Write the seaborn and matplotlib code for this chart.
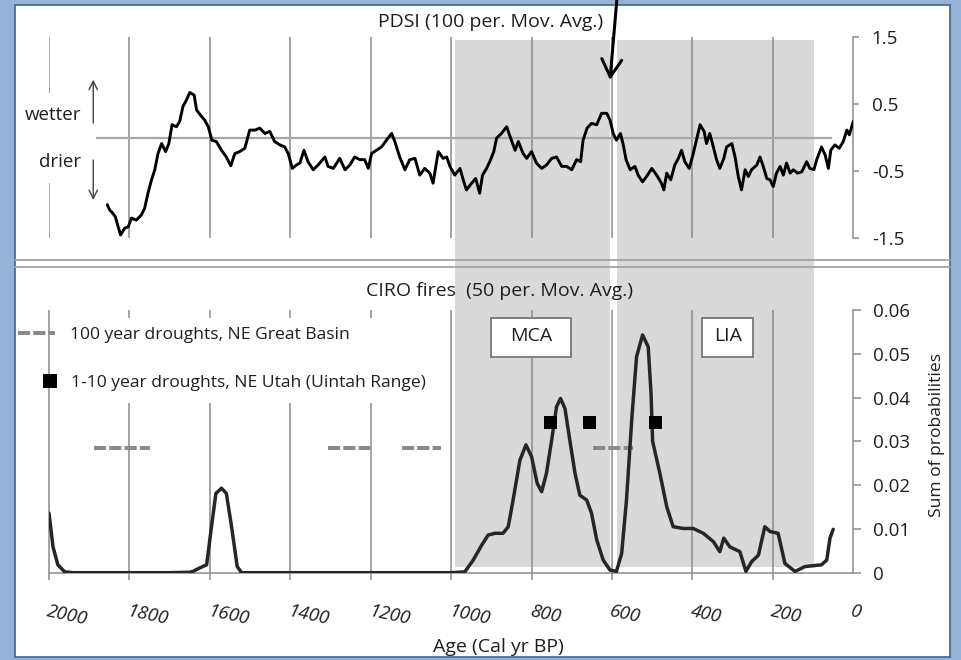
import matplotlib
matplotlib.use("Agg")
import matplotlib.pyplot as plt
import matplotlib.transforms as mtransforms
from matplotlib.patches import Rectangle
from matplotlib.lines import Line2D
import pandas as pd
import seaborn as sns

# ---------------- data ----------------
pdsi_years = [1855, 1849, 1841, 1835, 1828, 1822, 1812, 1803, 1795, 1783, 1770, 1762, 1754, 1745,
              1737, 1729, 1720, 1710, 1702, 1694, 1683, 1675, 1667, 1658, 1650, 1639, 1633, 1623,
              1613, 1604, 1595, 1584, 1571, 1559, 1548, 1538, 1526, 1513, 1501, 1488, 1476, 1463,
              1451, 1439, 1426, 1414, 1405, 1395, 1385, 1376, 1366, 1356, 1343, 1331, 1314, 1306,
              1293, 1277, 1264, 1252, 1240, 1227, 1215, 1206, 1198, 1186, 1173, 1161, 1148, 1140,
              1128, 1115, 1103, 1090, 1078, 1066, 1053, 1045, 1032, 1020, 1011, 1003, 991, 978,
              970, 962, 949, 939, 929, 922, 912, 904, 894, 887, 875, 862, 852, 841, 833, 821, 812,
              800, 788, 775, 763, 750, 738, 725, 713, 700, 688, 678, 672, 662, 651, 638, 626, 613,
              605, 597, 589, 579, 572, 565, 555, 543, 535, 524, 514, 501, 489, 477, 471, 464, 454,
              444, 435, 427, 419, 408, 398, 390, 381, 371, 365, 357, 348, 340, 332, 322, 315, 302,
              294, 286, 278, 269, 261, 253, 240, 232, 224, 215, 207, 199, 191, 182, 174, 166, 157,
              149, 139, 128, 116, 108, 98, 91, 79, 70, 62, 56, 46, 35, 25, 16, 10, 0]
pdsi_values = [-1.00, -1.08, -1.13, -1.18, -1.33, -1.45, -1.35, -1.33, -1.20, -1.23, -1.15, -1.05,
               -0.83, -0.63, -0.48, -0.24, -0.09, -0.21, -0.09, 0.19, 0.16, 0.24, 0.46, 0.56, 0.67,
               0.63, 0.41, 0.33, 0.26, 0.16, -0.04, -0.06, -0.19, -0.29, -0.42, -0.24, -0.21, -0.16,
               0.11, 0.11, 0.14, 0.06, 0.09, -0.06, -0.11, -0.14, -0.24, -0.46, -0.41, -0.38, -0.19,
               -0.36, -0.48, -0.41, -0.29, -0.43, -0.46, -0.31, -0.48, -0.41, -0.29, -0.33, -0.33,
               -0.46, -0.24, -0.19, -0.14, -0.04, 0.06, -0.06, -0.29, -0.48, -0.33, -0.31, -0.56,
               -0.46, -0.53, -0.68, -0.21, -0.31, -0.29, -0.43, -0.56, -0.46, -0.63, -0.78, -0.68,
               -0.61, -0.83, -0.56, -0.46, -0.36, -0.21, -0.01, 0.06, 0.16, -0.01, -0.19, -0.06,
               -0.24, -0.31, -0.21, -0.38, -0.46, -0.41, -0.31, -0.29, -0.43, -0.43, -0.48, -0.33,
               -0.36, -0.04, 0.14, 0.21, 0.19, 0.36, 0.36, 0.26, 0.06, -0.04, 0.06, -0.11, -0.33,
               -0.48, -0.43, -0.56, -0.66, -0.58, -0.46, -0.56, -0.68, -0.78, -0.53, -0.63, -0.41,
               -0.31, -0.19, -0.36, -0.46, -0.24, -0.04, 0.19, 0.09, -0.09, 0.06, -0.14, -0.33,
               -0.46, -0.31, -0.14, -0.09, -0.29, -0.58, -0.78, -0.48, -0.58, -0.48, -0.41, -0.29,
               -0.43, -0.61, -0.63, -0.73, -0.53, -0.43, -0.56, -0.38, -0.53, -0.48, -0.53, -0.51,
               -0.36, -0.46, -0.48, -0.33, -0.14, -0.26, -0.46, -0.19, -0.11, -0.16, -0.06, 0.11,
               0.04, 0.24]

fire_years = [2000, 1990, 1978, 1961, 1940, 1700, 1650, 1642, 1625, 1608, 1596, 1585, 1571, 1559,
              1546, 1532, 1521, 1000, 966, 945, 924, 908, 891, 871, 858, 846, 829, 814, 800, 786,
              775, 763, 750, 738, 728, 717, 705, 692, 680, 663, 651, 638, 622, 605, 589, 576, 564,
              551, 539, 524, 510, 503, 499, 481, 464, 448, 423, 398, 373, 348, 332, 322, 307, 282,
              267, 253, 236, 220, 207, 187, 170, 145, 120, 79, 66, 58, 50]
fire_values = [0.0136, 0.0059, 0.0018, 0.0002, 0.0, 0.0, 0.0001, 0.0003, 0.0011, 0.0018, 0.0105,
               0.0181, 0.0193, 0.0181, 0.0105, 0.0014, 0.0, 0.0, 0.0002, 0.0029, 0.0063, 0.0086,
               0.0090, 0.0090, 0.0105, 0.0166, 0.0257, 0.0292, 0.0265, 0.0204, 0.0185, 0.0227,
               0.0303, 0.0379, 0.0398, 0.0375, 0.0303, 0.0227, 0.0177, 0.0166, 0.0136, 0.0075,
               0.0029, 0.0006, 0.0003, 0.0044, 0.0166, 0.0349, 0.0493, 0.0543, 0.0516, 0.0410,
               0.0300, 0.0227, 0.0151, 0.0105, 0.0101, 0.0101, 0.0090, 0.0071, 0.0048, 0.0079,
               0.0059, 0.0048, 0.0003, 0.0025, 0.0040, 0.0105, 0.0094, 0.0090, 0.0021, 0.0003,
               0.0014, 0.0018, 0.0029, 0.0079, 0.0099]

drought100_start = [1888, 1307, 1123, 648]
drought100_end = [1750, 1202, 1024, 549]
drought100_level = 0.0284
drought10_years = [753, 655, 491]
drought10_levels = [0.0342, 0.0342, 0.0342]

shade_start = [990, 588]
shade_end = [605, 98]

period_labels = ["MCA", "LIA"]
period_start = [901.5, 376]
period_end = [702.5, 248.5]

age_ticks = [2000, 1800, 1600, 1400, 1200, 1000, 800, 600, 400, 200, 0]
age_tick_labels = ["2000", "1800", "1600", "1400", "1200", "1000", "800", "600", "400", "200", "0"]
pdsi_ticks = [-1.5, -0.5, 0.5, 1.5]
pdsi_tick_labels = ["-1.5", "-0.5", "0.5", "1.5"]
fire_ticks = [0, 0.01, 0.02, 0.03, 0.04, 0.05, 0.06]
fire_tick_labels = ["0", "0.01", "0.02", "0.03", "0.04", "0.05", "0.06"]

pdsi_df = pd.DataFrame({"age": pdsi_years, "pdsi": pdsi_values})
fire_df = pd.DataFrame({"age": fire_years, "prob": fire_values})
sq_df = pd.DataFrame({"age": drought10_years, "prob": drought10_levels})

# ---------------- style ----------------
sns.set_theme(style="white")
plt.rcParams["font.family"] = ["Open Sans", "DejaVu Sans"]

GRID = "#8c8c8c"
SHADE = "#d9d9d9"
TEXT = "#1f1f1f"
DASH = "#8a8a8a"
FS_TITLE = 14.0
FS_TICK = 13.5
FS_LEG = 12.6
FS_LEG_PX = FS_LEG * 100 / 72

W, H = 961, 660
fig = plt.figure(figsize=(W / 100, H / 100), dpi=100, facecolor="#95b3d7")


def fx(px):
    return px / W


def fy(py):
    return 1 - py / H


fig.patches.append(Rectangle((fx(15), fy(657)), fx(950) - fx(15), fy(5) - fy(657),
                             transform=fig.transFigure, facecolor="white",
                             edgecolor="#3f6390", lw=1.2, zorder=-3))

X0, X1 = 49, 853.3
ax_top = fig.add_axes([fx(X0), fy(238.3), fx(X1) - fx(X0), fy(36.7) - fy(238.3)])
ax_bot = fig.add_axes([fx(X0), fy(572.7), fx(X1) - fx(X0), fy(310) - fy(572.7)])

# curves
sns.lineplot(data=pdsi_df, x="age", y="pdsi", ax=ax_top, color="black", lw=2.1, zorder=5)
sns.lineplot(data=fire_df, x="age", y="prob", ax=ax_bot, color="#262626", lw=2.5, zorder=5)
for ln in ax_top.lines + ax_bot.lines:
    ln.set_solid_joinstyle("round")
    ln.set_solid_capstyle("round")
sns.scatterplot(data=sq_df, x="age", y="prob", ax=ax_bot, marker="s", s=88, color="black",
                edgecolor="none", zorder=6)
ax_bot.hlines([drought100_level] * len(drought100_start), drought100_start, drought100_end,
              colors=DASH, lw=2.9, linestyles=[(0, (3, 0.8))], zorder=4)

for ax in (ax_top, ax_bot):
    ax.set_facecolor("none")
    ax.set_xlim(2000, 0)
    ax.set_xlabel("")
    ax.set_ylabel("")
    for s in ["left", "top", "bottom"]:
        ax.spines[s].set_visible(False)
    ax.spines["right"].set_color(GRID)
    ax.spines["right"].set_linewidth(1.1)
    ax.yaxis.tick_right()

ax_top.set_ylim(-1.5, 1.5)
ax_bot.set_ylim(0, 0.06)

# shading across both panels
blend = mtransforms.blended_transform_factory(ax_bot.transData, fig.transFigure)
for s0, s1 in zip(shade_start, shade_end):
    fig.patches.append(Rectangle((s1, fy(566.7)), s0 - s1, fy(40) - fy(566.7), transform=blend,
                                 facecolor=SHADE, edgecolor="none", zorder=-1))

# panel separator
for py in (260, 267):
    fig.add_artist(Line2D([fx(15), fx(950)], [fy(py), fy(py)], transform=fig.transFigure,
                          color="#a3a3a3", lw=1.3, zorder=3))

# top gridlines
ax_top.vlines(age_ticks[1:-1], -1.5, 1.5, colors=GRID, lw=1.1, zorder=2)
ax_top.vlines([2000, 2000], [-1.5, 0.66], [-0.68, 1.5], colors=GRID, lw=1.1, zorder=2)
ax_top.hlines(0, 1882, 53, colors="#a6a6a6", lw=1.6, zorder=2)

# bottom gridlines (broken by the legend text)
full = [2000, 1000, 800, 600, 400, 200]
ax_bot.vlines(full, -0.0017, 0.06, colors=GRID, lw=1.1, zorder=2, clip_on=False)
part = [1800, 1600, 1400, 1200]
ax_bot.vlines(part, -0.0017, 0.0387, colors=GRID, lw=1.1, zorder=2, clip_on=False)
ax_bot.vlines(part, 0.0581, 0.06, colors=GRID, lw=1.1, zorder=2, clip_on=False)
ax_bot.spines["bottom"].set_visible(True)
ax_bot.spines["bottom"].set_color(GRID)
ax_bot.spines["bottom"].set_linewidth(1.1)

# ticks
ax_top.set_xticks([])
ax_top.set_yticks(pdsi_ticks)
ax_top.set_yticklabels(pdsi_tick_labels)
ax_top.tick_params(axis="y", direction="out", length=4.3, width=1.1, color=GRID, pad=9,
                   labelsize=FS_TICK, labelcolor=TEXT, right=True, left=False)
ax_bot.set_yticks(fire_ticks)
ax_bot.set_yticklabels(fire_tick_labels)
ax_bot.tick_params(axis="y", direction="out", length=5.8, width=1.1, color=GRID, pad=8.6,
                   labelsize=FS_TICK, labelcolor=TEXT, right=True, left=False)
ax_bot.set_xticks(age_ticks)
ax_bot.set_xticklabels(age_tick_labels)
ax_bot.tick_params(axis="x", length=0, pad=21.5, labelsize=FS_TICK, labelcolor=TEXT, bottom=True)
for lab in ax_bot.get_xticklabels():
    lab.set_rotation(-12)
    lab.set_ha("left")
    lab.set_va("top")
    lab.set_rotation_mode("anchor")
    lab.set_style("italic")

# axis labels
ax_bot.set_xlabel("Age (Cal yr BP)", fontsize=14, color=TEXT)
ax_bot.xaxis.set_label_coords((498 - X0) / (X1 - X0), (572.7 - 646.7) / 262.7)
ax_bot.xaxis.label.set_va("center")
ax_bot.xaxis.label.set_ha("center")
ax_bot.yaxis.set_label_position("right")
ax_bot.set_ylabel("Sum of probabilities", fontsize=FS_LEG, color=TEXT, rotation=90)
ax_bot.yaxis.set_label_coords((936.7 - X0) / (X1 - X0), (572.7 - 435) / 262.7)
ax_bot.yaxis.label.set_va("center")

# titles
ax_top.text((491 - X0) / (X1 - X0), (238.3 - 22) / 201.6, "PDSI (100 per. Mov. Avg.)",
            transform=ax_top.transAxes, ha="center", va="center", fontsize=FS_TITLE, color=TEXT)
ax_bot.text((500 - X0) / (X1 - X0), (572.7 - 291) / 262.7, "CIRO fires  (50 per. Mov. Avg.)",
            transform=ax_bot.transAxes, ha="center", va="center", fontsize=FS_TITLE, color=TEXT)

# wetter / drier
ax_top.text(1919, 0.335, "wetter", ha="right", va="center", fontsize=FS_TICK, color=TEXT,
            clip_on=False)
ax_top.text(1919, -0.365, "drier", ha="right", va="center", fontsize=FS_TICK, color=TEXT,
            clip_on=False)
ax_top.annotate("", xy=(1890, 0.86), xytext=(1890, 0.216),
                arrowprops=dict(arrowstyle="->,head_length=0.5,head_width=0.25", lw=1.0,
                                color="#404040", shrinkA=0, shrinkB=0))
ax_top.annotate("", xy=(1890, -0.93), xytext=(1890, -0.335),
                arrowprops=dict(arrowstyle="->,head_length=0.5,head_width=0.25", lw=1.0,
                                color="#404040", shrinkA=0, shrinkB=0))

# big arrow from top
ax_top.annotate("", xy=(605, 0.856), xycoords="data", xytext=(588, 1.0),
                textcoords=("data", "figure fraction"),
                arrowprops=dict(arrowstyle="->,head_length=1.05,head_width=0.6", lw=2.2,
                                color="black", shrinkA=0, shrinkB=0), annotation_clip=False)

# MCA / LIA boxes
for lab, p0, p1 in zip(period_labels, period_start, period_end):
    ax_bot.add_patch(Rectangle((p1, 0.0493), p0 - p1, 0.0088, facecolor="white",
                               edgecolor="#7f7f7f", lw=1.4, zorder=7))
    ax_bot.text((p0 + p1) / 2, 0.0540, lab, ha="center", va="center", fontsize=FS_TITLE,
                color=TEXT, zorder=8)

# legends
leg1 = ax_bot.legend(handles=[Line2D([], [], color=DASH, lw=2.9, ls=(0, (3, 0.8)))],
                     labels=["100 year droughts, NE Great Basin"], loc="center left",
                     bbox_to_anchor=((18 - X0) / (X1 - X0), (572.7 - 335) / 262.7),
                     frameon=False, borderpad=0, borderaxespad=0,
                     handlelength=37 / FS_LEG_PX, handletextpad=15 / FS_LEG_PX,
                     fontsize=FS_LEG, labelcolor=TEXT)
ax_bot.add_artist(leg1)
ax_bot.legend(handles=[Line2D([], [], marker="s", ls="none", color="black", markersize=9.4,
                              markeredgewidth=0)],
              labels=["1-10 year droughts, NE Utah (Uintah Range)"], loc="center left",
              bbox_to_anchor=((41.7 - X0) / (X1 - X0), (572.7 - 383) / 262.7),
              frameon=False, borderpad=0, borderaxespad=0, handlelength=1.0,
              handletextpad=0.7, fontsize=FS_LEG, labelcolor=TEXT)

fig.savefig("out.png", dpi=100, facecolor=fig.get_facecolor())
